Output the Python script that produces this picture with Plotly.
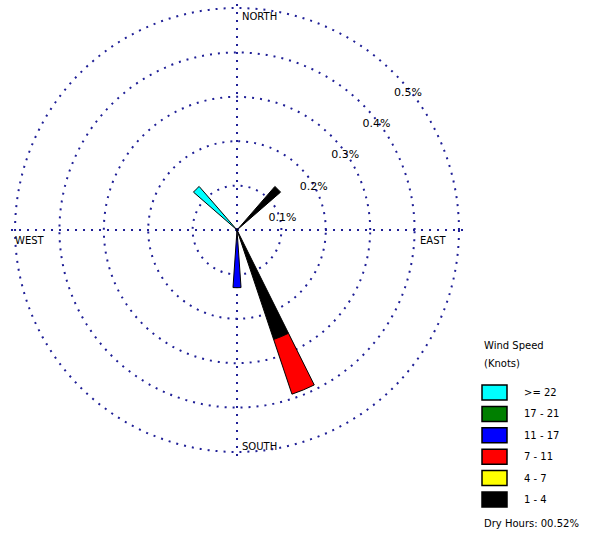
import plotly.graph_objects as go

# 16 compass sectors (degrees clockwise from north)
directions = ["N", "NNE", "NE", "ENE", "E", "ESE", "SE", "SSE",
              "S", "SSW", "SW", "WSW", "W", "WNW", "NW", "NNW"]
dir_angles = [0, 22.5, 45, 67.5, 90, 112.5, 135, 157.5,
              180, 202.5, 225, 247.5, 270, 292.5, 315, 337.5]

# Frequency (%) per speed class and sector, innermost class first
freq_1_4   = [0, 0, 0.13, 0, 0, 0, 0, 0.26, 0, 0, 0, 0, 0, 0, 0, 0]
freq_4_7   = [0, 0, 0,    0, 0, 0, 0, 0,    0, 0, 0, 0, 0, 0, 0, 0]
freq_7_11  = [0, 0, 0,    0, 0, 0, 0, 0.13, 0, 0, 0, 0, 0, 0, 0, 0]
freq_11_17 = [0, 0, 0,    0, 0, 0, 0, 0,    0.13, 0, 0, 0, 0, 0, 0, 0]
freq_17_21 = [0, 0, 0,    0, 0, 0, 0, 0,    0, 0, 0, 0, 0, 0, 0, 0]
freq_22    = [0, 0, 0,    0, 0, 0, 0, 0,    0, 0, 0, 0, 0, 0, 0.13, 0]

speed_labels = ["1 - 4", "4 - 7", "7 - 11", "11 - 17", "17 - 21", ">= 22"]
speed_colors = ["#000000", "#ffff00", "#ff0000", "#0000ff", "#007f00", "#00ffff"]
speed_freqs = [freq_1_4, freq_4_7, freq_7_11, freq_11_17, freq_17_21, freq_22]

ring_values = [0.1, 0.2, 0.3, 0.4, 0.5]
ring_labels = ["0.1%", "0.2%", "0.3%", "0.4%", "0.5%"]

dry_hours_text = "Dry Hours: 00.52%"

W, H = 589, 541
GRID = "#1f1f96"
FONT = dict(family="DejaVu Sans", size=10, color="#000000")


def px(x):
    return x / W


def py(y):
    return 1 - y / H


fig = go.Figure()

# Stacked wedges, one trace per speed class
for label, color, freqs in zip(speed_labels, speed_colors, speed_freqs):
    r = [f for f in freqs if f > 0]
    th = [a for a, f in zip(dir_angles, freqs) if f > 0]
    fig.add_trace(go.Barpolar(
        r=r, theta=th, width=8, name=label,
        marker=dict(color=color, line=dict(color="#000000", width=1)),
        showlegend=False,
    ))

# Ring percentage labels along the NE diagonal, hung just below each ring
fig.add_trace(go.Scatterpolar(
    r=ring_values, theta=[45] * len(ring_values), mode="text",
    text=["<br>" + t for t in ring_labels], textposition="bottom right",
    textfont=dict(family="DejaVu Sans", size=11, color="#000000"),
    showlegend=False, hoverinfo="skip",
))

fig.update_layout(
    width=W, height=H,
    margin=dict(l=0, r=0, t=0, b=0),
    paper_bgcolor="white",
    plot_bgcolor="white",
    showlegend=False,
    polar=dict(
        domain=dict(x=[0.018, 0.7868], y=[0.15638, 0.99335]),
        bgcolor="white",
        barmode="stack",
        radialaxis=dict(
            range=[0, 0.51], tickvals=ring_values,
            showticklabels=False, ticks="", showline=False,
            gridcolor=GRID, gridwidth=1.5, griddash="2px,6px",
        ),
        angularaxis=dict(
            rotation=90, direction="clockwise",
            tickvals=[0, 90, 180, 270],
            showticklabels=False, ticks="", showline=False,
            gridcolor=GRID, gridwidth=1.5, griddash="2px,6px",
        ),
    ),
)

# Compass labels
compass = [("NORTH", 240, 16), ("SOUTH", 240, 446), ("WEST", 13, 240), ("EAST", 418, 240)]
for text, x, y in compass:
    fig.add_annotation(text=text, x=px(x), y=py(y), xref="paper", yref="paper",
                       xanchor="left", yanchor="middle", showarrow=False, font=FONT)

# Legend
fig.add_annotation(text="Wind Speed", x=px(482), y=py(345), xref="paper", yref="paper",
                   xanchor="left", yanchor="middle", showarrow=False, font=FONT)
fig.add_annotation(text="(Knots)", x=px(482), y=py(363), xref="paper", yref="paper",
                   xanchor="left", yanchor="middle", showarrow=False, font=FONT)

box_top, pitch, box_h = 385, 21.4, 15
for i, (label, color) in enumerate(zip(speed_labels[::-1], speed_colors[::-1])):
    y0 = box_top + i * pitch
    fig.add_shape(type="rect", xref="paper", yref="paper",
                  x0=px(482), x1=px(507), y0=py(y0), y1=py(y0 + box_h),
                  fillcolor=color, line=dict(color="#000000", width=1.5))
    fig.add_annotation(text=label, x=px(522), y=py(y0 + box_h / 2), xref="paper", yref="paper",
                       xanchor="left", yanchor="middle", showarrow=False, font=FONT)

fig.add_annotation(text=dry_hours_text, x=px(482), y=py(523), xref="paper", yref="paper",
                   xanchor="left", yanchor="middle", showarrow=False, font=FONT)

fig.write_html("out.html")
